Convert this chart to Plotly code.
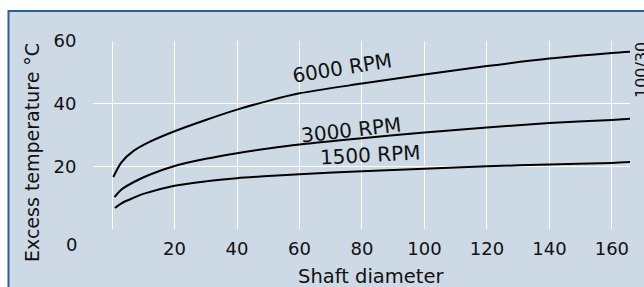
import plotly.graph_objects as go

# ---- data ----
x_6000 = [0.4, 3, 7, 12, 20, 30, 40, 50, 60, 80, 100, 120, 140, 160, 166]
y_6000 = [16.6, 21.3, 25.0, 27.8, 31.2, 34.8, 38.1, 40.9, 43.3, 46.4, 49.3, 52.0, 54.4, 56.2, 56.6]

x_3000 = [0.8, 3, 7, 12, 20, 30, 40, 50, 60, 80, 100, 120, 140, 160, 166.5]
y_3000 = [10.2, 12.6, 15.0, 17.3, 20.1, 22.4, 24.2, 25.7, 27.0, 29.0, 30.8, 32.4, 33.8, 34.8, 35.2]

x_1500 = [0.9, 3, 7, 10, 20, 30, 40, 50, 60, 80, 100, 120, 140, 160, 166]
y_1500 = [6.7, 8.2, 10.0, 11.2, 13.8, 15.2, 16.2, 16.9, 17.5, 18.4, 19.2, 20.0, 20.6, 21.1, 21.4]

series_names = ["6000 RPM", "3000 RPM", "1500 RPM"]
label_x = [73.5, 76.5, 82.5]
label_y = [51.3, 31.6, 23.5]
label_angle = [-9, -6.5, -3]

x_ticks = [0, 20, 40, 60, 80, 100, 120, 140, 160]
x_ticktext = ["", "20", "40", "60", "80", "100", "120", "140", "160"]
y_ticks = [0, 20, 40, 60]
y_ticktext = ["", "20", "40", "60"]

BG = "#cdd9e5"
BORDER = "#2d5f9e"
FONT = "DejaVu Sans"

fig = go.Figure()
for xs, ys, name in zip([x_6000, x_3000, x_1500], [y_6000, y_3000, y_1500], series_names):
    fig.add_trace(go.Scatter(x=xs, y=ys, mode="lines", name=name,
                             line=dict(color="black", width=2, shape="spline", smoothing=0.8),
                             cliponaxis=False, showlegend=False, hoverinfo="skip"))

W, H = 644, 287
L, R, T, B = 93, 14, 41, 58
pw, ph = W - L - R, H - T - B

def px(xp):
    return (xp - L) / pw

def py(yp):
    return (H - B - yp) / ph

annotations = []
for name, ax, ay, ang in zip(series_names, label_x, label_y, label_angle):
    annotations.append(dict(x=ax, y=ay, xref="x", yref="y", text=name, showarrow=False,
                            textangle=ang, font=dict(family=FONT, size=20, color="#111")))
annotations += [
    dict(x=px(79), y=py(245), xref="paper", yref="paper", text="0", showarrow=False,
         xanchor="right", yanchor="middle", font=dict(family=FONT, size=18, color="#111")),
    dict(x=px(371), y=py(276), xref="paper", yref="paper", text="Shaft diameter", showarrow=False,
         xanchor="center", yanchor="middle", font=dict(family=FONT, size=19.5, color="#111")),
    dict(x=px(32), y=py(153), xref="paper", yref="paper", text="Excess temperature °C", showarrow=False,
         textangle=-90, xanchor="center", yanchor="middle", font=dict(family=FONT, size=19, color="#111")),
    dict(x=px(641), y=py(70), xref="paper", yref="paper", text="100/30", showarrow=False,
         textangle=-90, xanchor="center", yanchor="middle", font=dict(family=FONT, size=16, color="#111")),
]

shapes = [
    dict(type="rect", xref="paper", yref="paper", x0=px(9), x1=px(700), y0=py(300), y1=py(11),
         fillcolor=BG, line=dict(width=0), layer="below"),
    dict(type="line", xref="paper", yref="paper", x0=px(8), x1=px(700), y0=py(11), y1=py(11),
         line=dict(color=BORDER, width=2), layer="above"),
    dict(type="line", xref="paper", yref="paper", x0=px(8.5), x1=px(8.5), y0=py(300), y1=py(10),
         line=dict(color=BORDER, width=2), layer="above"),
]

fig.update_layout(
    width=W, height=H,
    margin=dict(l=L, r=R, t=T, b=B),
    paper_bgcolor="white",
    plot_bgcolor=BG,
    font=dict(family=FONT, size=18, color="#111"),
    annotations=annotations,
    shapes=shapes,
    hovermode=False,
    xaxis=dict(range=[-6.1, 165.8], tickvals=x_ticks, ticktext=x_ticktext,
               showgrid=True, gridcolor="white", gridwidth=1.3, zeroline=False,
               showline=False, ticks="outside", ticklen=3, tickcolor=BG, fixedrange=True,
               tickfont=dict(family=FONT, size=18, color="#111")),
    yaxis=dict(range=[0, 60], tickvals=y_ticks, ticktext=y_ticktext,
               showgrid=True, gridcolor="white", gridwidth=1.3, zeroline=False,
               showline=False, ticks="outside", ticklen=12, tickcolor=BG, fixedrange=True,
               tickfont=dict(family=FONT, size=18, color="#111")),
)

fig.write_html("out.html", config={"displayModeBar": False},
               post_script="document.body.style.margin='0';document.body.style.overflow='hidden';")
